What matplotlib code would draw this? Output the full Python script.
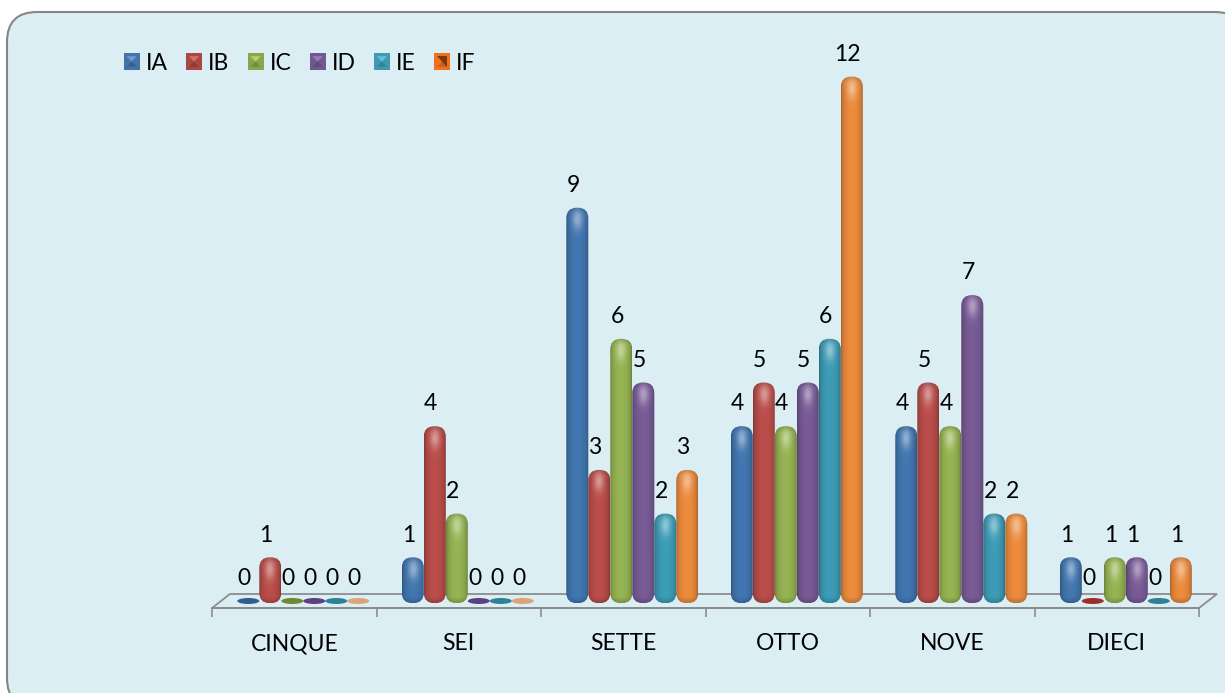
import numpy as np
import matplotlib
matplotlib.use('Agg')
import matplotlib.pyplot as plt
from matplotlib.patches import FancyBboxPatch, Ellipse, Rectangle, Polygon, Patch
from matplotlib.legend_handler import HandlerPatch
from matplotlib.colors import to_rgb

plt.rcParams['font.family'] = ['Lato', 'DejaVu Sans']

# --- data ---
categories = ['CINQUE', 'SEI', 'SETTE', 'OTTO', 'NOVE', 'DIECI']
series_names = ['IA', 'IB', 'IC', 'ID', 'IE', 'IF']
ia = [0, 1, 9, 4, 4, 1]
ib = [1, 4, 3, 5, 5, 0]
ic = [0, 2, 6, 4, 4, 1]
id_ = [0, 0, 5, 5, 7, 1]
ie = [0, 0, 2, 6, 2, 0]
if_ = [0, 0, 3, 12, 2, 1]
series_values = [ia, ib, ic, id_, ie, if_]

bar_colors = ['#3F71A8', '#B24A47', '#8FAC4E', '#73578F', '#3A95AE', '#E2853A']
zero_colors = ['#2F5F8F', '#9A2F2D', '#6F8A30', '#5E3F80', '#2F8295', '#DCA47A']
legend_colors = ['#4572A7', '#AA4643', '#89A54E', '#71588F', '#4198AF', '#F07020']
legend_tris = ['#6C9BD2', '#DB6E6B', '#B5D06C', '#9A7BBA', '#5CC4DE', '#7A3A08']

W, H = 1225, 693
PX_X = 164.5   # pixels per category
PX_Y = 43.7    # pixels per unit of value
BAR_W = 22 / PX_X
ROUND = 10.5 / PX_X
BAR_BOTTOM = -0.05
FS = 16.5


def bar_image(color, h_px, w_px=22):
    # shaded cylinder look: dark edges, lighter middle, soft bright spot at the top
    nx, ny = 44, max(int(h_px * 2), 4)
    x = np.linspace(-1, 1, nx)
    y = np.linspace(0, h_px, ny)  # px from the top
    xx, yy = np.meshgrid(x, y)
    shade = 0.72 + 0.33 * np.sqrt(np.clip(1 - xx ** 2, 0, 1))
    edge = np.minimum(yy, h_px - yy)
    shade = shade * (0.82 + 0.18 * np.clip(edge / 6, 0, 1))
    spot = np.exp(-((xx * w_px / 2 / 5) ** 2 + ((yy - 12) / 10) ** 2))
    base = np.array(to_rgb(color))
    img = np.clip(base * shade[..., None], 0, 1)
    img = img + (1 - img) * (0.42 * spot)[..., None]
    return img


fig = plt.figure(figsize=(W / 100, H / 100), dpi=100, facecolor='white')

# panel behind the chart, in pixel coordinates
bg = fig.add_axes([0, 0, 1, 1])
bg.set_xlim(0, W)
bg.set_ylim(H, 0)
bg.axis('off')
bg.add_patch(FancyBboxPatch((7, 12), 1238, 696, boxstyle='round,pad=0,rounding_size=30',
                            facecolor='#DBEEF4', edgecolor='#868686', linewidth=1.5))

# chart axes: x 212-1199 px, y 20-640 px with value 0 on 601 px
top_px, bot_px = 20, 640
ax = fig.add_axes([212 / W, 1 - bot_px / H, 987 / W, (bot_px - top_px) / H])
ax.patch.set_alpha(0)
aspect = (1 / PX_Y) / (1 / PX_X)

floor_color = '#8C8C8C'
for j, name in enumerate(series_names):
    vals = series_values[j]
    for i, v in enumerate(vals):
        xc = i + 0.555 + (j - 2.5) * BAR_W
        if v == 0:
            ax.add_patch(Ellipse((xc, 0.0), BAR_W, 6 / PX_Y, facecolor=zero_colors[j],
                                 edgecolor='none', zorder=3 + j * 0.01))
        else:
            box = FancyBboxPatch((xc - BAR_W / 2, BAR_BOTTOM), BAR_W, v - BAR_BOTTOM,
                                 boxstyle=f'round,pad=0,rounding_size={ROUND}',
                                 mutation_aspect=aspect, facecolor='none', edgecolor='none',
                                 zorder=3 + j * 0.01)
            ax.add_patch(box)
            h_px = (v - BAR_BOTTOM) * PX_Y
            im = ax.imshow(bar_image(bar_colors[j], h_px), extent=(xc - BAR_W / 2, xc + BAR_W / 2,
                           BAR_BOTTOM, v), origin='upper', aspect='auto', zorder=3 + j * 0.01,
                           interpolation='bilinear')
            im.set_clip_path(box)
        ax.annotate(str(v), (xc, v), xytext=(-3.0, 16), textcoords='offset points',
                    ha='center', va='center', fontsize=FS, color='black', zorder=6)

ax.set_xlim(0, len(categories))
ax.set_ylim(-(bot_px - 601) / PX_Y, (601 - top_px) / PX_Y)

# floor of the 3D look
front = -7 / PX_Y
back = 7 / PX_Y
dx = 18 / PX_X
ax.add_patch(Polygon([(0, front), (dx, back), (len(categories) + dx, back), (len(categories), front)],
                     closed=True, facecolor='none', edgecolor=floor_color, linewidth=1.3,
                     clip_on=False, zorder=2))

for s in ['top', 'left', 'right']:
    ax.spines[s].set_visible(False)
ax.spines['bottom'].set_position(('data', front))
ax.spines['bottom'].set_color(floor_color)
ax.spines['bottom'].set_linewidth(1.3)
ax.set_yticks([])
ax.set_xticks(np.arange(len(categories)) + 0.5)
ax.set_xticklabels(categories, fontsize=FS, color='black')
ax.set_xticks(np.arange(len(categories) + 1), minor=True)
ax.tick_params(axis='x', which='major', length=0, pad=18)
ax.tick_params(axis='x', which='minor', length=6.5, width=1.2, color=floor_color)


class PyramidHandler(HandlerPatch):
    def create_artists(self, legend, orig, xdescent, ydescent, width, height, fontsize, trans):
        idx = series_names.index(orig.get_label())
        x0, y0 = -xdescent, -ydescent
        x1, y1 = x0 + width, y0 + height
        sq = Rectangle((x0, y0), width, height, facecolor=legend_colors[idx], edgecolor='none',
                       transform=trans)
        low = Polygon([(x0 + 2, y0 + 2), (x1 - 2, y0 + 2), ((x0 + x1) / 2, (y0 + y1) / 2)],
                      closed=True, facecolor='black', alpha=0.15, edgecolor='none', transform=trans)
        if series_names[idx] == 'IF':
            pts = [(x0 + 2, y1 - 2), (x1 - 2, y1 - 2), (x1 - 2, y0 + 2)]
        else:
            pts = [(x0 + 2, y1 - 2), (x1 - 2, y1 - 2), ((x0 + x1) / 2, (y0 + y1) / 2)]
        tri = Polygon(pts, closed=True, facecolor=legend_tris[idx], edgecolor='none', transform=trans)
        return [sq, low, tri]


handles = [Patch(label=n) for n in series_names]
leg = fig.legend(handles=handles, ncol=6, frameon=False, fontsize=FS,
                 handler_map={Patch: PyramidHandler()},
                 loc='center left', bbox_to_anchor=(103 / W, 1 - 63 / H),
                 handlelength=0.7, handleheight=0.7, handletextpad=0.26, columnspacing=0.8)

fig.savefig('out.png', dpi=100)
